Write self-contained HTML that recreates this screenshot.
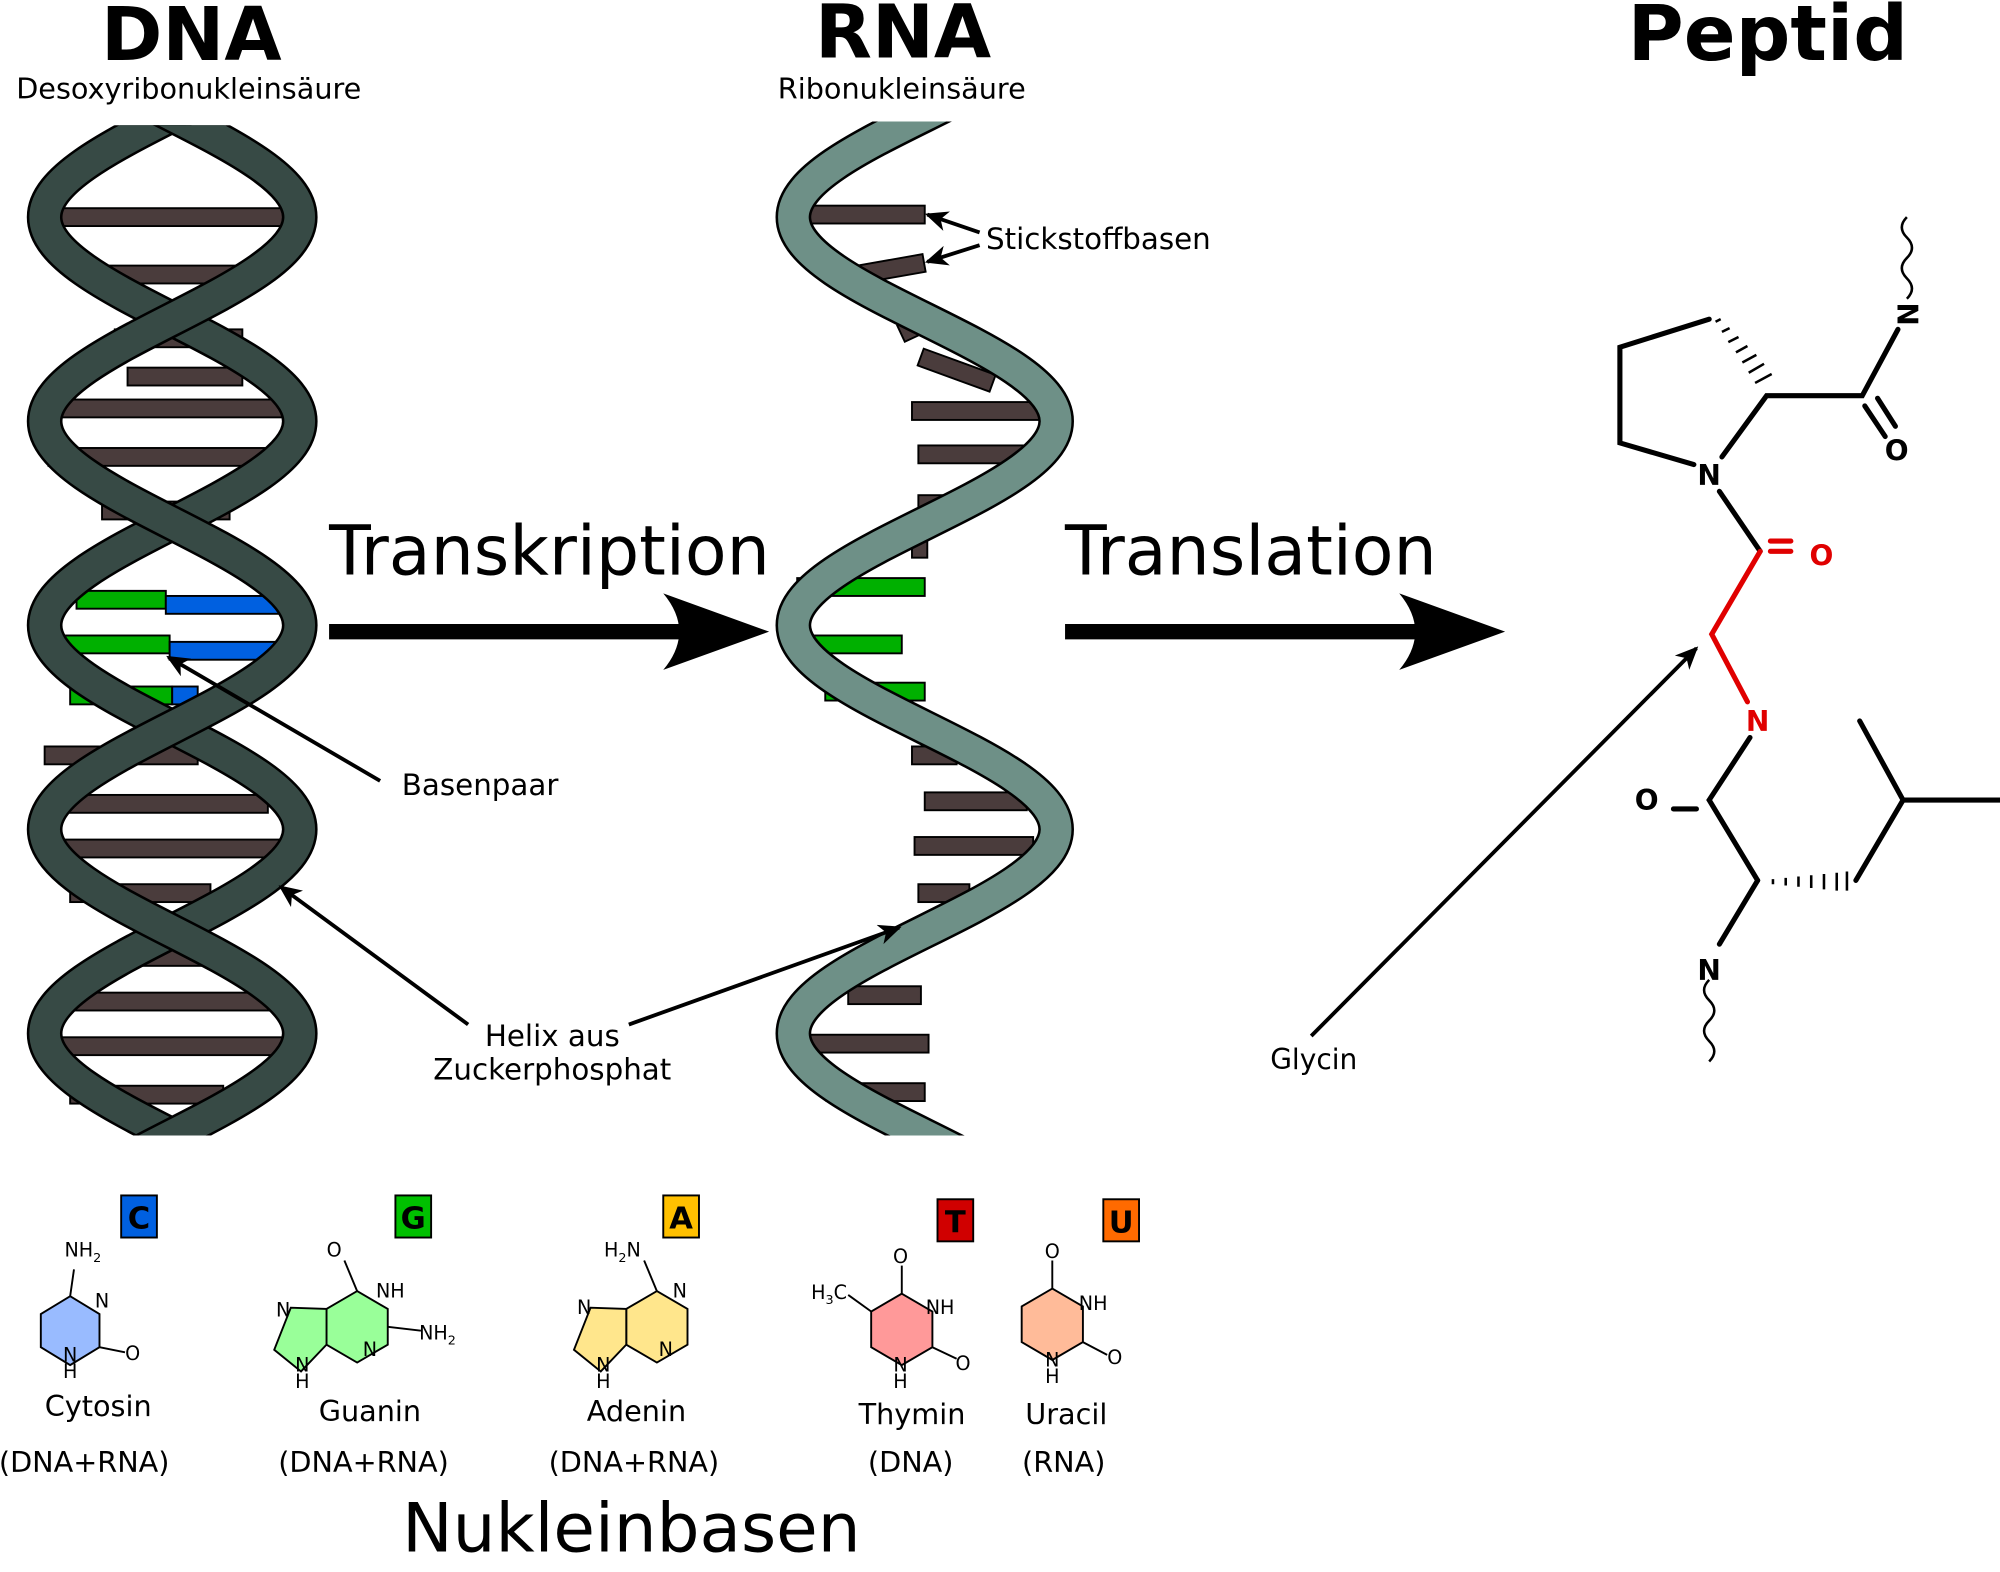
<!DOCTYPE html>
<html><head><meta charset="utf-8"><style>
html,body{margin:0;padding:0;background:#fff}
svg{display:block}
text{font-family:"DejaVu Sans","Liberation Sans",sans-serif}
</style></head><body>
<svg width="2000" height="1572" viewBox="0 0 1568 1232" xmlns="http://www.w3.org/2000/svg">
<defs>
<clipPath id="cd"><rect x="0" y="98" width="300" height="792"/></clipPath>
<clipPath id="cr"><rect x="560" y="95" width="300" height="795"/></clipPath>
<marker id="ah" markerWidth="18" markerHeight="16" refX="16" refY="8" orient="auto" markerUnits="userSpaceOnUse"><path d="M0,0 L18,8 L0,16 L5,8z" fill="#000"/></marker>
</defs>
<rect width="1568" height="1232" fill="#fff"/>
<!-- titles -->
<text x="150" y="47" font-size="58" font-weight="bold" text-anchor="middle">DNA</text>
<text x="148" y="77" font-size="22.5" text-anchor="middle">Desoxyribonukleinsäure</text>
<text x="708" y="45" font-size="58" font-weight="bold" text-anchor="middle">RNA</text>
<text x="707" y="77" font-size="22.5" text-anchor="middle">Ribonukleinsäure</text>
<text x="1386" y="47" font-size="60" font-weight="bold" text-anchor="middle">Peptid</text>

<!-- DNA bars -->
<g stroke="#000" stroke-width="1.5" fill="#4a3c3c">
<rect x="40" y="163" width="185" height="14"/><rect x="60" y="208" width="150" height="14"/>
<rect x="90" y="258" width="100" height="14"/><rect x="100" y="288" width="90" height="14"/>
<rect x="45" y="313" width="180" height="14"/><rect x="38" y="351" width="185" height="14"/>
<rect x="80" y="393" width="100" height="14"/>
<rect x="35" y="585" width="120" height="14"/><rect x="50" y="623" width="160" height="14"/>
<rect x="35" y="658" width="190" height="14"/><rect x="55" y="693" width="110" height="14"/>
<rect x="90" y="743" width="70" height="14"/><rect x="40" y="778" width="175" height="14"/>
<rect x="38" y="813" width="190" height="14"/><rect x="55" y="851" width="120" height="14"/>
</g>
<g stroke="#000" stroke-width="1.5">
<rect x="60" y="463" width="70" height="14" fill="#00b000"/><rect x="130" y="467" width="95" height="14" fill="#0060e0"/>
<rect x="38" y="498" width="95" height="14" fill="#00b000"/><rect x="133" y="503" width="85" height="14" fill="#0060e0"/>
<rect x="55" y="538" width="80" height="14" fill="#00b000"/><rect x="135" y="538" width="20" height="14" fill="#0060e0"/>
</g>
<!-- DNA strands -->
<g clip-path="url(#cd)" fill="none">
<path d="M235,10 C235,68 35,112 35,170 C35,228 235,272 235,330 C235,388 35,432 35,490 C35,548 235,592 235,650 C235,708 35,752 35,810 C35,868 235,912 235,970" stroke="#000" stroke-width="28"/>
<path d="M235,10 C235,68 35,112 35,170 C35,228 235,272 235,330 C235,388 35,432 35,490 C35,548 235,592 235,650 C235,708 35,752 35,810 C35,868 235,912 235,970" stroke="#374a45" stroke-width="24"/>
<path d="M35,10 C35,68 235,112 235,170 C235,228 35,272 35,330 C35,388 235,432 235,490 C235,548 35,592 35,650 C35,708 235,752 235,810 C235,868 35,912 35,970" stroke="#000" stroke-width="28"/>
<path d="M35,10 C35,68 235,112 235,170 C235,228 35,272 35,330 C35,388 235,432 235,490 C235,548 35,592 35,650 C35,708 235,752 235,810 C235,868 35,912 35,970" stroke="#374a45" stroke-width="24"/>
</g>

<!-- RNA bars -->
<g stroke="#000" stroke-width="1.5" fill="#4a3c3c">
<rect x="630" y="161" width="95" height="14"/><rect x="655" y="205" width="70" height="14" transform="rotate(-10 690 212)"/>
<rect x="705" y="248" width="30" height="14" transform="rotate(-25 720 255)"/><rect x="720" y="283" width="60" height="14" transform="rotate(20 750 290)"/>
<rect x="715" y="315" width="100" height="14"/><rect x="720" y="349" width="90" height="14"/>
<rect x="720" y="388" width="25" height="14"/><rect x="715" y="423" width="12" height="14"/>
<rect x="715" y="585" width="35" height="14"/><rect x="725" y="621" width="80" height="14"/>
<rect x="717" y="656" width="93" height="14"/><rect x="720" y="693" width="40" height="14"/>
<rect x="665" y="773" width="57" height="14"/><rect x="628" y="811" width="100" height="14"/>
<rect x="648" y="849" width="77" height="14"/>
</g>
<g stroke="#000" stroke-width="1.5" fill="#00b000">
<rect x="625" y="453" width="100" height="14"/><rect x="625" y="498" width="82" height="14"/><rect x="647" y="535" width="78" height="14"/>
</g>
<g clip-path="url(#cr)" fill="none">
<path d="M828,10 C828,68 622,112 622,170 C622,228 828,272 828,330 C828,388 622,432 622,490 C622,548 828,592 828,650 C828,708 622,752 622,810 C622,868 828,912 828,970" stroke="#000" stroke-width="28"/>
<path d="M828,10 C828,68 622,112 622,170 C622,228 828,272 828,330 C828,388 622,432 622,490 C622,548 828,592 828,650 C828,708 622,752 622,810 C622,868 828,912 828,970" stroke="#6e9087" stroke-width="24"/>
</g>

<!-- annotations -->
<text x="773" y="195" font-size="23">Stickstoffbasen</text>
<line x1="768" y1="182" x2="727" y2="168" stroke="#000" stroke-width="3" marker-end="url(#ah)"/>
<line x1="768" y1="192" x2="727" y2="205" stroke="#000" stroke-width="3" marker-end="url(#ah)"/>
<text x="315" y="623" font-size="23">Basenpaar</text>
<line x1="298" y1="612" x2="132" y2="515" stroke="#000" stroke-width="3" marker-end="url(#ah)"/>
<text x="433" y="820" font-size="23" text-anchor="middle">Helix aus</text>
<text x="433" y="846" font-size="23" text-anchor="middle">Zuckerphosphat</text>
<line x1="367" y1="803" x2="220" y2="695" stroke="#000" stroke-width="3" marker-end="url(#ah)"/>
<line x1="493" y1="803" x2="705" y2="727" stroke="#000" stroke-width="3" marker-end="url(#ah)"/>

<!-- big arrows -->
<text x="258" y="450" font-size="53.5">Transkription</text>
<line x1="258" y1="495" x2="540" y2="495" stroke="#000" stroke-width="12"/>
<path d="M603,495 L520,465 Q545,495 520,525 Z" fill="#000"/>
<text x="835" y="450" font-size="53.5">Translation</text>
<line x1="835" y1="495" x2="1115" y2="495" stroke="#000" stroke-width="12"/>
<path d="M1180,495 L1097,465 Q1122,495 1097,525 Z" fill="#000"/>

<!-- peptide -->
<g stroke="#000" stroke-width="4" fill="none" stroke-linecap="round">
<path d="M1340,250 L1270,272 L1270,347 L1328,364"/>
<path d="M1350,358 L1385,310 L1460,310 L1488,258"/>
<path d="M1462,318 L1478,342"/><path d="M1472,312 L1486,334"/>
<path d="M1348,385 L1380,432"/>
<path d="M1372,578 L1340,627 L1378,690"/>
<path d="M1455,690 L1492,627 L1458,565"/><path d="M1492,627 L1568,627"/>
<path d="M1378,690 L1348,740"/>
<path d="M1312,634 L1330,634"/>
</g>
<g stroke="#000" stroke-width="2">
<path d="M1345,252 l4,-2 M1350,260 l6,-3 M1355,268 l8,-4 M1361,276 l9,-5 M1366,284 l11,-6 M1371,292 l12,-7 M1376,300 l13,-7"/>
<path d="M1390,693 l0,-4 M1400,694 l0,-6 M1410,695 l0,-8 M1420,696 l0,-10 M1430,697 l0,-12 M1440,698 l0,-14 M1448,698 l0,-15"/>
<path d="M1495,170 q-8,8 0,16 q8,8 0,16 q-8,8 0,16 q8,8 0,16" fill="none"/>
<path d="M1340,768 q-8,8 0,16 q8,8 0,16 q-8,8 0,16 q8,8 0,16" fill="none"/>
</g>
<g stroke="#e00000" stroke-width="4" fill="none" stroke-linecap="round">
<path d="M1380,432 L1342,497 L1370,550"/>
<path d="M1388,424 L1404,424"/><path d="M1388,432 L1404,432"/>
</g>
<g font-size="22" font-weight="bold" text-anchor="middle">
<text x="1340" y="380">N</text>
<text x="1496" y="254" transform="rotate(-90 1496 246)">N</text>
<text x="1487" y="361">O</text>
<text x="1428" y="443" fill="#e00000">O</text>
<text x="1378" y="573" fill="#e00000">N</text>
<text x="1291" y="635">O</text>
<text x="1340" y="768">N</text>
</g>
<line x1="1028" y1="812" x2="1330" y2="508" stroke="#000" stroke-width="3" marker-end="url(#ah)"/>
<text x="1030" y="838" font-size="22" text-anchor="middle">Glycin</text>

<!-- nucleobase boxes -->
<g stroke="#000" stroke-width="1.5">
<rect x="95" y="937" width="28" height="33" fill="#0060e0"/><rect x="310" y="937" width="28" height="33" fill="#00c000"/>
<rect x="520" y="937" width="28" height="33" fill="#ffc000"/><rect x="735" y="940" width="28" height="33" fill="#d00000"/>
<rect x="865" y="940" width="28" height="33" fill="#ff6a00"/>
</g>
<g font-size="24" font-weight="bold" text-anchor="middle">
<text x="109" y="963">C</text><text x="324" y="963">G</text><text x="534" y="963">A</text><text x="749" y="966">T</text><text x="879" y="966">U</text>
</g>
<!-- molecules -->
<g stroke="#000" stroke-width="1.5">
<polygon points="55,1016 78,1030 78,1056 55,1070 32,1056 32,1030" fill="#99bbff"/>
<line x1="55" y1="1016" x2="58" y2="995"/><line x1="78" y1="1056" x2="98" y2="1060"/>
<polygon points="280,1012 304,1026 304,1054 280,1068 256,1054 256,1026" fill="#99ff99"/>
<polygon points="256,1026 256,1054 236,1075 215,1058 228,1025" fill="#99ff99"/>
<line x1="280" y1="1012" x2="270" y2="988"/><line x1="304" y1="1040" x2="330" y2="1043"/>
<polygon points="515,1012 539,1026 539,1054 515,1068 491,1054 491,1026" fill="#ffe68c"/>
<polygon points="491,1026 491,1054 471,1075 450,1058 463,1025" fill="#ffe68c"/>
<line x1="515" y1="1012" x2="505" y2="988"/>
<polygon points="707,1014 731,1028 731,1056 707,1070 683,1056 683,1028" fill="#ff9999"/>
<line x1="707" y1="1014" x2="707" y2="992"/><line x1="683" y1="1028" x2="665" y2="1015"/><line x1="731" y1="1056" x2="750" y2="1065"/>
<polygon points="825,1010 849,1024 849,1052 825,1066 801,1052 801,1024" fill="#ffbb99"/>
<line x1="825" y1="1010" x2="825" y2="988"/><line x1="849" y1="1052" x2="868" y2="1062"/>
</g>
<g font-size="15" text-anchor="middle">
<text x="65" y="985">NH<tspan font-size="10" dy="4">2</tspan></text>
<text x="80" y="1025">N</text><text x="55" y="1080">H</text><text x="55" y="1067">N</text><text x="104" y="1066">O</text>
<text x="262" y="985">O</text><text x="306" y="1017">NH</text><text x="290" y="1063">N</text><text x="343" y="1050">NH<tspan font-size="10" dy="4">2</tspan></text>
<text x="222" y="1032">N</text><text x="237" y="1088">H</text><text x="237" y="1075">N</text>
<text x="488" y="985">H<tspan font-size="10" dy="4">2</tspan><tspan dy="-4">N</tspan></text>
<text x="533" y="1017">N</text><text x="522" y="1063">N</text><text x="458" y="1030">N</text><text x="473" y="1088">H</text><text x="473" y="1075">N</text>
<text x="706" y="990">O</text><text x="737" y="1030">NH</text><text x="706" y="1088">H</text><text x="706" y="1075">N</text><text x="755" y="1074">O</text>
<text x="650" y="1018">H<tspan font-size="10" dy="4">3</tspan><tspan dy="-4">C</tspan></text>
<text x="825" y="986">O</text><text x="857" y="1027">NH</text><text x="825" y="1084">H</text><text x="825" y="1071">N</text><text x="874" y="1069">O</text>
</g>
<g font-size="22.5" text-anchor="middle">
<text x="77" y="1110">Cytosin</text><text x="66" y="1154">(DNA+RNA)</text>
<text x="290" y="1114">Guanin</text><text x="285" y="1154">(DNA+RNA)</text>
<text x="499" y="1114">Adenin</text><text x="497" y="1154">(DNA+RNA)</text>
<text x="715" y="1116">Thymin</text><text x="714" y="1154">(DNA)</text>
<text x="836" y="1116">Uracil</text><text x="834" y="1154">(RNA)</text>
</g>
<text x="495" y="1216" font-size="53" text-anchor="middle">Nukleinbasen</text>
</svg>
</body></html>
